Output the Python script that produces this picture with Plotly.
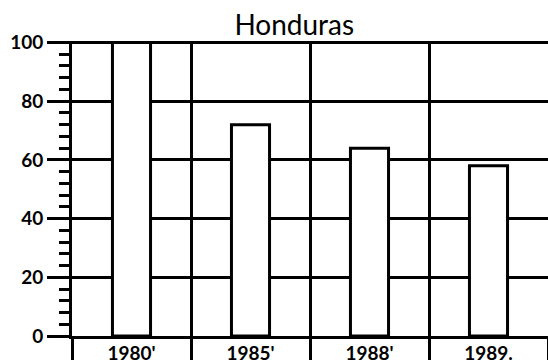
import plotly.graph_objects as go

# Honduras: index values by year
years = ["1980'", "1985'", "1988'", "1989."]
values = [100, 72, 64, 58]

y_ticks = [0, 20, 40, 60, 80, 100]

fig = go.Figure(
    go.Bar(
        x=years,
        y=values,
        width=0.32,
        marker=dict(color="white", line=dict(color="black", width=3)),
        hoverinfo="x+y",
    )
)

fig.update_layout(
    width=548,
    height=364,
    margin=dict(l=72, r=0, t=41, b=26),
    paper_bgcolor="white",
    plot_bgcolor="white",
    showlegend=False,
    font=dict(family="Lato", color="black"),
    title=dict(
        text="Honduras",
        x=0.537,
        xanchor="center",
        y=0.932,
        yanchor="middle",
        font=dict(family="Lato", size=28, color="black"),
    ),
)

fig.update_xaxes(
    type="category",
    tickson="boundaries",
    showgrid=True,
    gridcolor="black",
    gridwidth=3,
    showline=True,
    linecolor="black",
    linewidth=3,
    ticks="outside",
    ticklen=21,
    tickwidth=3,
    tickcolor="black",
    ticklabelstandoff=-2,
    tickfont=dict(family="Lato", size=19, color="black", weight="bold"),
)

fig.update_yaxes(
    range=[0, 100.5],
    tickvals=y_ticks,
    showgrid=True,
    gridcolor="black",
    gridwidth=3,
    zeroline=False,
    showline=True,
    linecolor="black",
    linewidth=3,
    ticks="outside",
    ticklen=22,
    tickwidth=3,
    tickcolor="black",
    tickfont=dict(family="Lato", size=19, color="black", weight="bold"),
    minor=dict(dtick=4, ticks="outside", ticklen=10, tickwidth=3,
               tickcolor="black", showgrid=False),
)

fig.write_html("out.html")
